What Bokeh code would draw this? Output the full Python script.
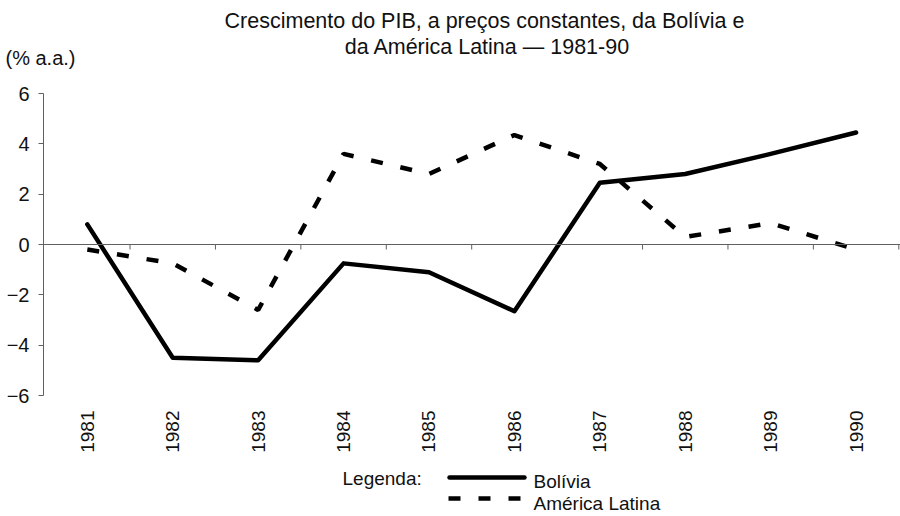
from bokeh.plotting import figure
from bokeh.layouts import column
from bokeh.models import Range1d, FixedTicker, Span, ColumnDataSource
from bokeh.core.properties import value
from bokeh.embed import file_html
from bokeh.resources import INLINE
from math import pi

# ---- data ----
years = ["1981", "1982", "1983", "1984", "1985", "1986", "1987", "1988", "1989", "1990"]
bolivia = [0.8, -4.5, -4.6, -0.75, -1.1, -2.65, 2.45, 2.8, 3.6, 4.45]
america_latina = [-0.2, -0.75, -2.6, 3.6, 2.8, 4.35, 3.2, 0.3, 0.85, -0.2]
y_ticks = [-6, -4, -2, 0, 2, 4, 6]
title_lines = ["Crescimento do PIB, a preços constantes, da Bolívia  e",
               "da América Latina — 1981-90"]
unit_label = "(% a.a.)"
legend_title = "Legenda:"
series_names = ["Bolívia", "América Latina"]

FONT = "Liberation Sans"
AXC = "#606060"
TXT = "#111111"
W = 900
HEAD_H = 70
SOLID = dict(line_color="black", line_width=4.5, line_join="round", line_cap="round")
DASHED = dict(line_color="black", line_width=4.5, line_dash="12 18", line_cap="butt")


def blank(height, left=0):
    f = figure(width=W, height=height, output_backend="svg", toolbar_location=None,
               x_range=Range1d(left, W), y_range=Range1d(height, 0),
               min_border=0, min_border_left=left, x_axis_type=None, y_axis_type=None)
    f.outline_line_color = None
    f.grid.grid_line_color = None
    return f


# ---- header (titles) ----
head = blank(HEAD_H)
head.text(x=[487, 487], y=[20, 46], text=title_lines, text_align="center",
          text_baseline="middle", text_font=value(FONT), text_font_size="21.5px",
          text_color=TXT)
head.text(x=[5], y=[57], text=[unit_label], text_align="left",
          text_baseline="middle", text_font=value(FONT), text_font_size="20px",
          text_color=TXT)

# ---- main chart ----
xs = list(range(1, len(years) + 1))
src = ColumnDataSource(dict(x=xs, bol=bolivia, al=america_latina))

p = figure(width=W, height=460 - HEAD_H, output_backend="svg", toolbar_location=None,
           x_range=Range1d(0.487, 10.52), y_range=Range1d(-6, 6),
           min_border_left=43, min_border_right=0, min_border_top=93 - HEAD_H,
           min_border_bottom=65)
p.outline_line_color = None
p.grid.grid_line_color = None

ya = p.yaxis[0]
ya.ticker = FixedTicker(ticks=y_ticks)
ya.minor_tick_line_color = None
ya.major_tick_in = 0
ya.major_tick_out = 5
ya.axis_line_color = AXC
ya.major_tick_line_color = AXC
ya.major_label_standoff = 9
ya.major_label_text_font = FONT
ya.major_label_text_font_size = "20px"
ya.major_label_text_color = TXT

xa = p.xaxis[0]
xa.ticker = FixedTicker(ticks=xs)
xa.major_label_overrides = {x: y for x, y in zip(xs, years)}
xa.major_label_orientation = pi / 2
xa.axis_line_color = None
xa.major_tick_line_color = None
xa.minor_tick_line_color = None
xa.major_label_standoff = 9
xa.major_label_text_font = FONT
xa.major_label_text_font_size = "19px"
xa.major_label_text_color = TXT

p.add_layout(Span(location=0, dimension="width", line_color=AXC, line_width=1))
bounds = [x + 0.5 for x in xs]
p.segment(x0=bounds, y0=[0] * len(bounds), x1=bounds, y1=[-0.2] * len(bounds),
          line_color=AXC, line_width=1)

p.line("x", "al", source=src, **DASHED)
p.line("x", "bol", source=src, **SOLID)

# ---- legend strip ----
leg = blank(56)
leg.text(x=[342], y=[18], text=[legend_title], text_align="left",
         text_baseline="middle", text_font=value(FONT), text_font_size="19px",
         text_color=TXT)
leg.line(x=[449, 524], y=[17, 17], **SOLID)
leg.line(x=[448, 522], y=[38, 38], **DASHED)
leg.text(x=[533, 533], y=[21, 43], text=series_names, text_align="left",
         text_baseline="middle", text_font=value(FONT), text_font_size="19px",
         text_color=TXT)

layout = column(column(head), p, column(leg), spacing=0)
open("out.html", "w").write(file_html(layout, INLINE))
